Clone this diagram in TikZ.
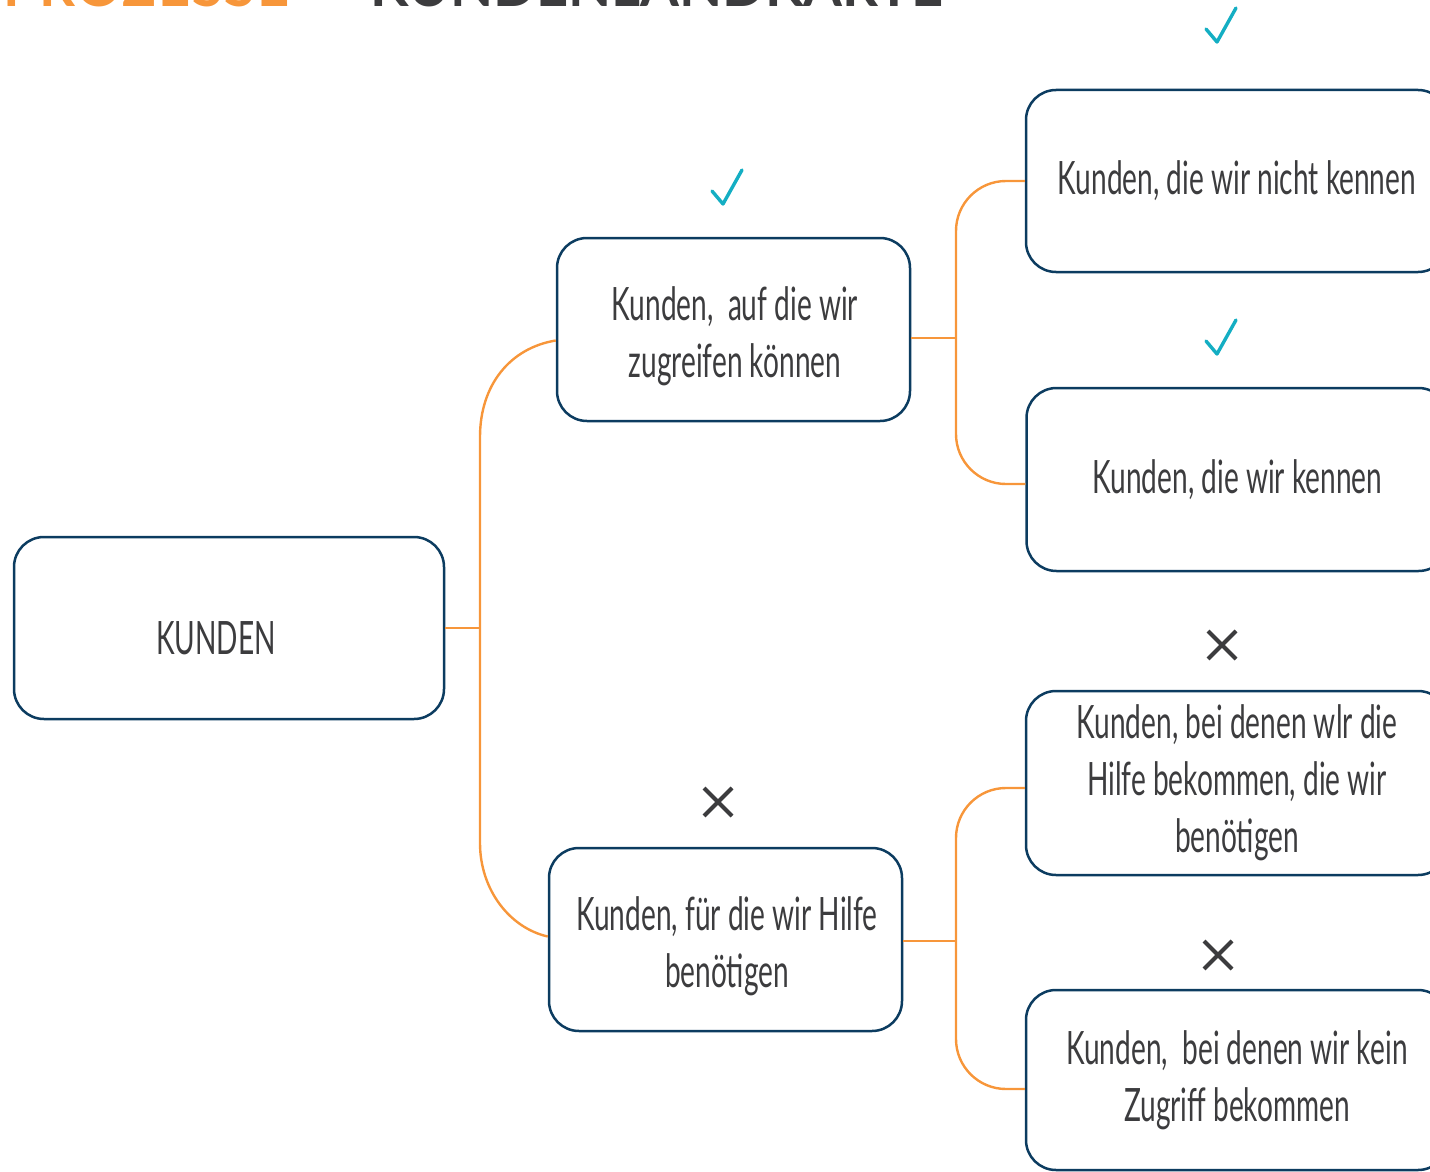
\documentclass[tikz,border=0pt]{standalone}
\usepackage{fontspec}
\setmainfont{Lato}
\newfontfamily\boxfont[FakeStretch=0.61]{Lato}
\newfontfamily\titlefont[UprightFont={* Bold}]{Lato}
\definecolor{navy}{HTML}{0C3C60}
\definecolor{branch}{HTML}{F7963A}
\definecolor{teal}{HTML}{14AEC3}
\definecolor{ink}{HTML}{3C3C3E}
\tikzset{
  box/.style={draw=navy, line width=1.25pt, rounded corners=15pt, fill=white,
    text=ink, align=center, inner sep=0pt,
    font=\boxfont\fontsize{23}{28.5}\selectfont},
  boxtext/.style={text=ink, align=center, inner sep=0pt,
    font=\boxfont\fontsize{23}{28.5}\selectfont},
  conn/.style={draw=branch, line width=1.2pt},
  checkmark/.pic={\draw[teal, line width=1.7pt, line cap=round, line join=round]
    (-15,4) -- (-4,17) -- (15,-17);},
  crossmark/.pic={\draw[ink, line width=2pt]
    (-14,-14) -- (14,14) (-14,14) -- (14,-14);}
}
\begin{document}
\begin{tikzpicture}[x=0.5pt,y=-0.5pt]
\useasboundingbox (0,0) rectangle (1430,1172);
\clip (0,0) rectangle (1430,1172);

% heading, only its lower part lies inside the page
\node[anchor=base west, inner sep=0pt, text=branch,
  font=\titlefont\fontsize{28}{28}\selectfont\addfontfeature{LetterSpace=3}]
  (head1) at (3,7) {PROZESSE};
\node[anchor=base west, inner sep=0pt, text=ink, font=\titlefont\fontsize{28}{28}\selectfont]
  (head2) at (370,7) {KUNDENLANDKARTE};

% boxes
\node[box, minimum width=215pt, minimum height=91pt] (K) at (229,628) {};
\node[boxtext] (Kt) at (216,638) {KUNDEN};
\node[box, minimum width=176.5pt, minimum height=91.5pt] (B1) at (733.5,329.5) {};
\node[boxtext] (B1t) at (735,336.5) {Kunden,\ \ auf die wir\\zugreifen können};
\node[box, minimum width=176.5pt, minimum height=91.5pt] (B2) at (725.5,939.5) {};
\node[boxtext] (B2t) at (727,946.5) {Kunden, für die wir Hilfe\\benötigen};
\node[box, minimum width=211pt, minimum height=91pt] (C1) at (1237,181)
  {Kunden, die wir nicht kennen};
\node[box, minimum width=211pt, minimum height=91.5pt] (C2) at (1237.5,479.5)
  {Kunden, die wir kennen};
\node[box, minimum width=211pt, minimum height=92pt] (C3) at (1237,783)
  {Kunden, bei denen wlr die\\Hilfe bekommen, die wir\\benötigen};
\node[box, minimum width=211pt, minimum height=90pt] (C4) at (1237,1080)
  {Kunden,\ \ bei denen wir kein\\Zugriff bekommen};

% connectors
\coordinate (t1) at (480,628);
\coordinate (r1) at (956,338);
\coordinate (r2) at (956,941);
\draw[conn] (K.east) -- (t1);
\draw[conn] ([yshift=-5.5pt]B1.west) .. controls (510,348) and (480,385) .. (480,437)
  -- (480,843) .. controls (480,890) and (510,928) .. ([yshift=1.5pt]B2.west);
\draw[conn] (B1.east |- r1) -- (r1);
\draw[conn, rounded corners=25pt] (C1.west) -| (r1) |- ([yshift=-2.25pt]C2.west);
\draw[conn] (B2.east |- r2) -- (r2);
\draw[conn, rounded corners=25pt] ([yshift=-2.5pt]C3.west) -| (r2) |- ([yshift=-4.5pt]C4.west);

% marks
\pic at (1221,25) {checkmark};
\pic at (727,187) {checkmark};
\pic at (1221,337) {checkmark};
\pic at (718,802) {crossmark};
\pic at (1222,645) {crossmark};
\pic at (1218,955) {crossmark};
\end{tikzpicture}
\end{document}
